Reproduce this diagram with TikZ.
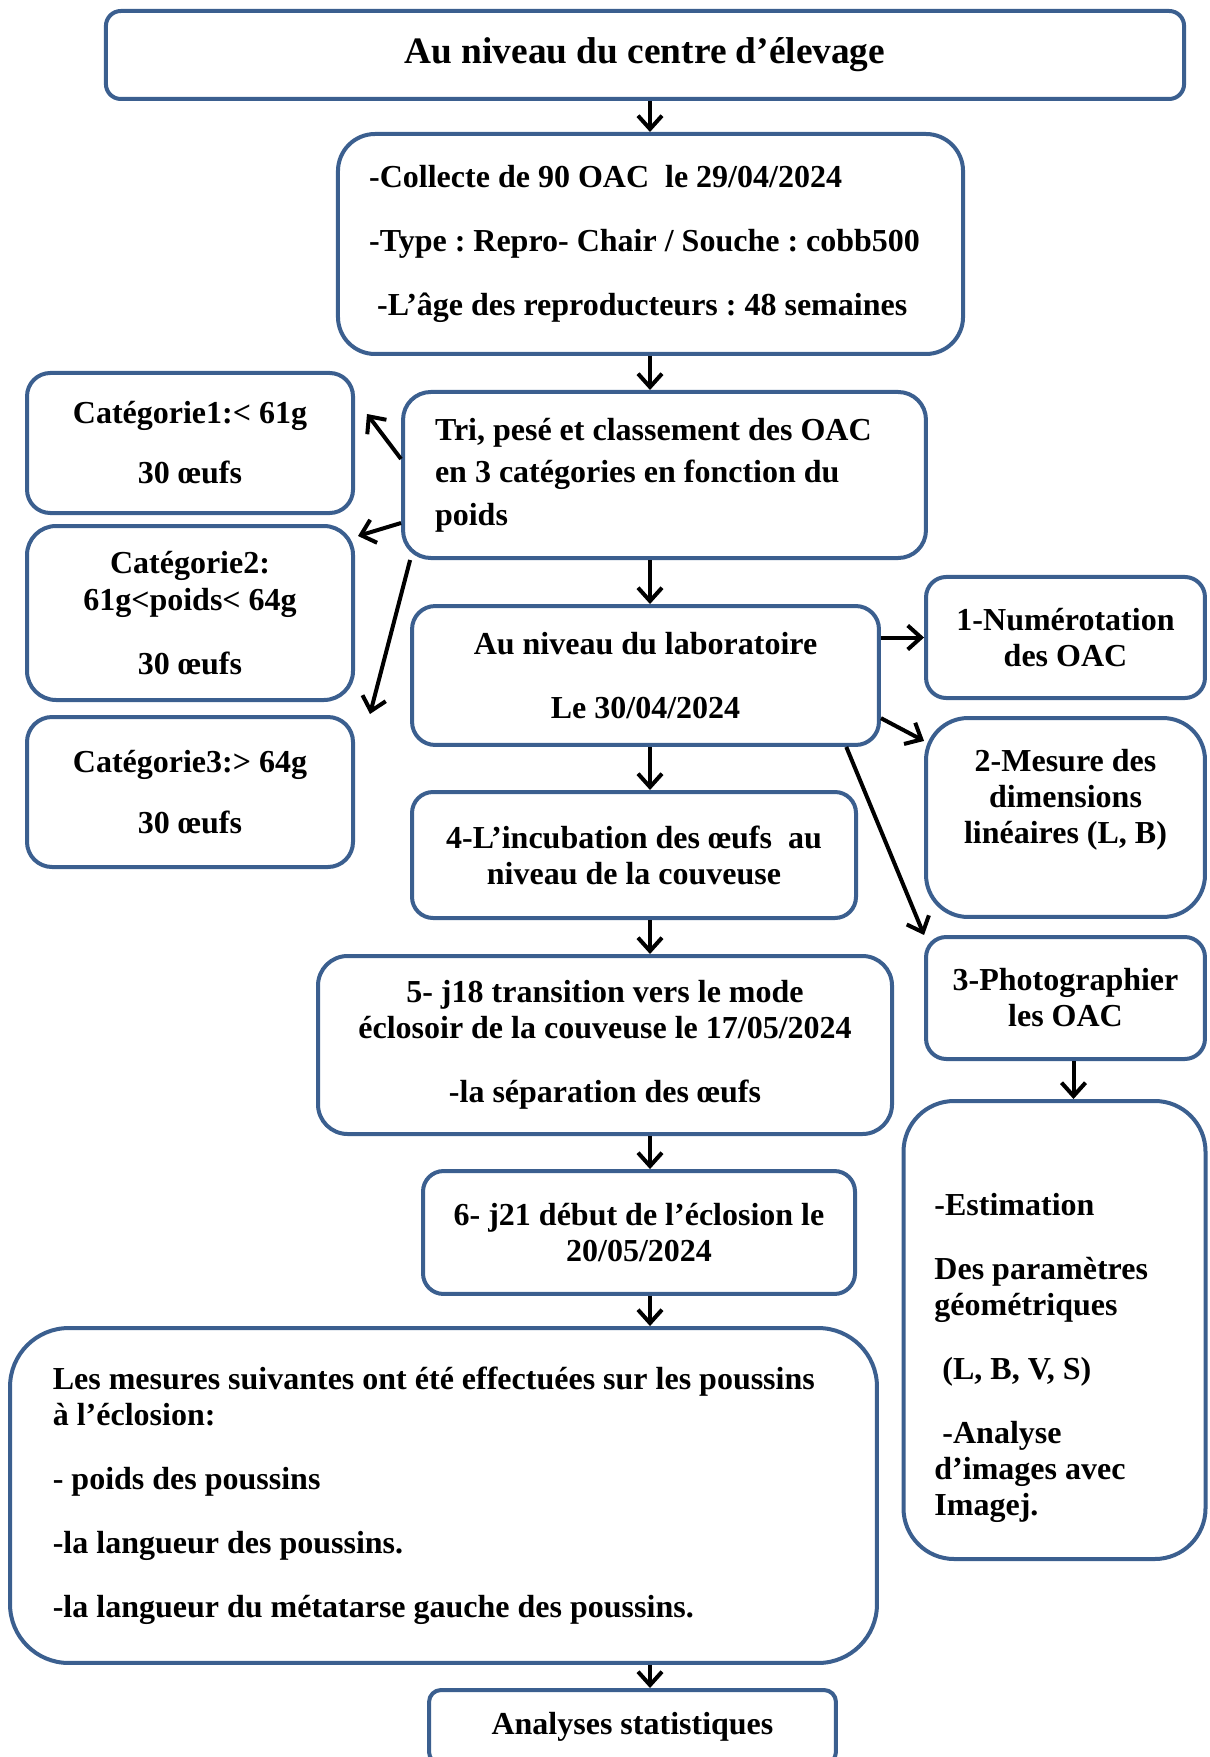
\documentclass[tikz,border=0pt]{standalone}
\usepackage{fontspec}
\setmainfont{Liberation Serif}
\usetikzlibrary{arrows.meta}
\definecolor{boxblue}{RGB}{59,95,143}
\frenchspacing
\tikzset{
  box/.style={draw=boxblue, line width=1.5pt, rounded corners=#1, inner sep=0pt, align=center,
    font=\fontsize{12}{13.5}\selectfont\bfseries},
  box/.default=8pt,
  leftbox/.style={align=flush left, execute at begin node={\spaceskip=0pt\xspaceskip=0pt}},
  flow/.style={-{Straight Barb[length=5pt,width=9pt]}, line width=1.5pt, black},
}
\begin{document}
\begin{tikzpicture}[x=0.375pt,y=-0.375pt]
       \useasboundingbox (0,0) rectangle (1209,1757);
       \coordinate (spine) at (650,0);
       % centre column
       \node[box=5.6pt, minimum width=404.3pt, minimum height=33pt, font=\fontsize{14}{16}\selectfont\bfseries] (centre) at (645,55) {Au niveau du centre d’élevage};
       \node[box=13.9pt, minimum width=234.4pt, minimum height=82.5pt, text width=211pt, inner xsep=11.7pt, leftbox] (collecte) at (650.5,244) {-Collecte de 90 OAC\ \ le 29/04/2024\\[10.5pt] -Type : Repro- Chair / Souche : cobb500\\[10.5pt] \hspace*{3pt}-L’âge des reproducteurs : 48 semaines};
       \node[box=10.4pt, minimum width=196.1pt, minimum height=62.25pt, text width=172.1pt, inner xsep=12pt, leftbox] (tri) at (664.5,475) {Tri, pesé et classement des OAC\\[2.5pt] en 3 catégories en fonction du\\[2.5pt] poids};
       \node[box=8.7pt, minimum width=175.1pt, minimum height=52.1pt] (labo) at (645.5,675.5) {Au niveau du laboratoire\\[10.5pt] Le 30/04/2024};
       \node[box=7.9pt, minimum width=166.5pt, minimum height=47.25pt] (incub) at (634,855) {4-L’incubation des œufs\ \ au\\ niveau de la couveuse};
       \node[box=11.1pt, minimum width=215.25pt, minimum height=66.75pt] (j18) at (605,1045) {5- j18 transition vers le mode\\ éclosoir de la couveuse le 17/05/2024\\[10.5pt] -la séparation des œufs};
       \node[box=7.7pt, minimum width=162pt, minimum height=46.1pt] (j21) at (639,1232.5) {6- j21 début de l’éclosion le\\ 20/05/2024};
       \node[box=22pt, minimum width=325.1pt, minimum height=125.6pt, text width=293pt, inner xsep=16pt, leftbox] (mesures) at (443.5,1495.5) {Les mesures suivantes ont été effectuées sur les poussins\\ à l’éclosion:\\[10.5pt] - poids des poussins\\[10.5pt] -la langueur des poussins.\\[10.5pt] -la langueur du métatarse gauche des poussins.};
       \node[box=4.5pt, minimum width=152.6pt, minimum height=27.75pt] (analyses) at (632.5,1727) {Analyses statistiques};
       % categories
       \node[box=8.75pt, minimum width=122.25pt, minimum height=52.5pt] (cat1) at (190,443) {Catégorie1:< 61g\\[9pt] 30 œufs};
       \node[box=10.9pt, minimum width=122.25pt, minimum height=65.25pt] (cat2) at (190,613) {Catégorie2:\\[0.5pt] 61g<poids< 64g\\[10.5pt] 30 œufs};
       \node[box=9.4pt, minimum width=122.25pt, minimum height=56.25pt] (cat3) at (190,792) {Catégorie3:> 64g\\[9.5pt] 30 œufs};
       % laboratory steps
       \node[box=7.6pt, minimum width=104.6pt, minimum height=45.4pt] (num) at (1065.5,637.5) {1-Numérotation\\ des OAC};
       \node[box=15.75pt, minimum width=104.6pt, minimum height=74.6pt] (mesure) at (1065.5,817.5) {2-Mesure des\\ dimensions\\ linéaires (L, B)\rule[-16pt]{0pt}{16pt}};
       \node[box=7.6pt, minimum width=104.6pt, minimum height=45.75pt] (photo) at (1065.5,998) {3-Photographier\\ les OAC};
       \node[box=19pt, minimum width=113.25pt, minimum height=171.75pt, text width=90.05pt, inner xsep=11.6pt, leftbox] (estim) at (1054.5,1330) {\rule{0pt}{29pt}-Estimation\\[10.5pt] Des paramètres\\ géométriques\\[10.5pt] \hspace*{3pt}(L, B, V, S)\\[10.5pt] \hspace*{3pt}-Analyse\\ d’images avec\\ Imagej.};
       \coordinate (photoout) at ([xshift=3pt]photo.south);
       % arrows
       \draw[flow] (centre.south -| spine) -- (collecte.north -| spine);
       \draw[flow] (collecte.south -| spine) -- (tri.north -| spine);
       \draw[flow] (tri.south -| spine) -- (labo.north -| spine);
       \draw[flow] (labo.south -| spine) -- (incub.north -| spine);
       \draw[flow] (incub.south -| spine) -- (j18.north -| spine);
       \draw[flow] (j18.south -| spine) -- (j21.north -| spine);
       \draw[flow] (j21.south -| spine) -- (mesures.north -| spine);
       \draw[flow] (mesures.south -| spine) -- (analyses.north -| spine);
       \draw[flow] ([yshift=6pt]tri.west) -- ([shift={(12,-29)}]cat1.east);
       \draw[flow] ([yshift=-18pt]tri.west) -- ([shift={(3,-77)}]cat2.east);
       \draw[flow] ([xshift=3.4pt]tri.south west) -- ([shift={(15,-1)}]cat3.north east);
       \draw[flow] (labo.east |- num.west) -- (num.west);
       \draw[flow] ([yshift=-16pt]labo.east) -- ([yshift=28.7pt]mesure.west);
       \draw[flow] ([xshift=-13pt]labo.south east) -- (photo.north west);
       \draw[flow] (photoout) -- (photoout |- estim.north);
\end{tikzpicture}
\end{document}
